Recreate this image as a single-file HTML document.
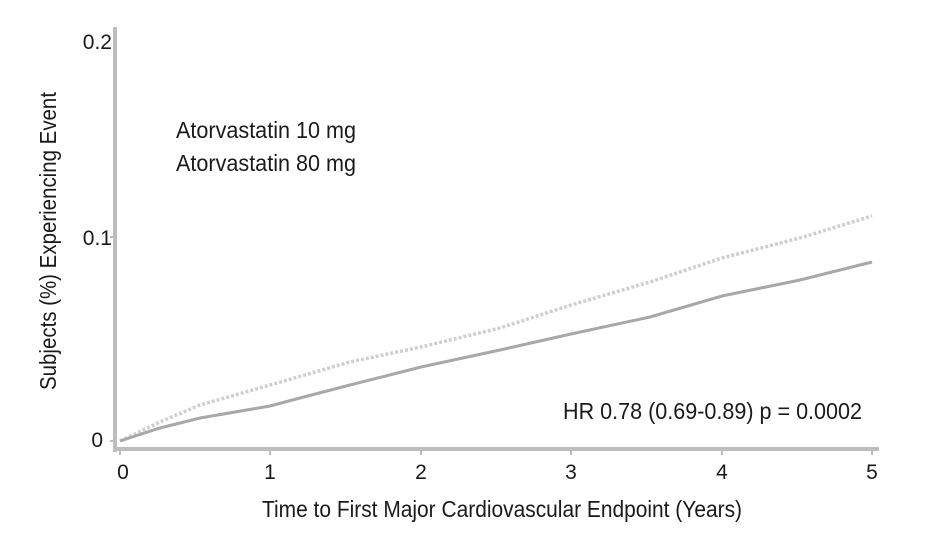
<!DOCTYPE html>
<html><head><meta charset="utf-8"><style>
html,body{margin:0;padding:0;background:#fff;}
svg{display:block;}
.n{font-family:"Liberation Sans",sans-serif;fill:#1a1a1a;font-size:23px;}
.t{font-family:"Liberation Sans",sans-serif;fill:#1a1a1a;font-size:21px;}
</style></head><body>
<svg width="946" height="534" viewBox="0 0 946 534" xmlns="http://www.w3.org/2000/svg">
<line x1="115" y1="27" x2="115" y2="452" stroke="#bdbdbd" stroke-width="4"/>
<line x1="113" y1="449" x2="879" y2="449" stroke="#bdbdbd" stroke-width="4"/>
<g stroke="#bdbdbd" stroke-width="2">
<line x1="120" y1="449" x2="120" y2="455"/><line x1="270" y1="449" x2="270" y2="455"/>
<line x1="421" y1="449" x2="421" y2="455"/><line x1="571" y1="449" x2="571" y2="455"/>
<line x1="722" y1="449" x2="722" y2="455"/><line x1="872" y1="449" x2="872" y2="455"/>
<line x1="110" y1="441" x2="115" y2="441"/><line x1="110" y1="237" x2="115" y2="237"/>
</g>
<text class="t" x="112" y="49" text-anchor="end">0.2</text>
<text class="t" x="112" y="245" text-anchor="end">0.1</text>
<text class="t" x="103" y="447" text-anchor="end">0</text>
<g class="t" text-anchor="middle">
<text x="123" y="479">0</text><text x="270" y="479">1</text><text x="421" y="479">2</text>
<text x="571" y="479">3</text><text x="722" y="479">4</text><text x="872" y="479">5</text>
</g>
<polyline fill="none" stroke="#cfcfcf" stroke-width="3.5" stroke-dasharray="3,2" points="120,441 160,422 200,405 270,385 350,362 421,347 500,328 571,305 650,282 722,258 800,238 872,216"/>
<polyline fill="none" stroke="#a8a8a8" stroke-width="3" points="120,441 160,428 200,418 270,406 300,398 350,385 421,367 500,350 571,334 650,317 722,296 800,280 872,262"/>
<text class="n" x="176" y="138" textLength="180" lengthAdjust="spacingAndGlyphs">Atorvastatin 10 mg</text>
<text class="n" x="176" y="171" textLength="180" lengthAdjust="spacingAndGlyphs">Atorvastatin 80 mg</text>
<text class="n" x="563" y="419" textLength="299" lengthAdjust="spacingAndGlyphs">HR 0.78 (0.69-0.89)  p = 0.0002</text>
<text class="n" x="262" y="517" textLength="480" lengthAdjust="spacingAndGlyphs">Time to First Major Cardiovascular Endpoint (Years)</text>
<text class="n" transform="translate(56,390) rotate(-90)" x="0" y="0" textLength="298" lengthAdjust="spacingAndGlyphs">Subjects (%) Experiencing Event</text>
</svg>
</body></html>
